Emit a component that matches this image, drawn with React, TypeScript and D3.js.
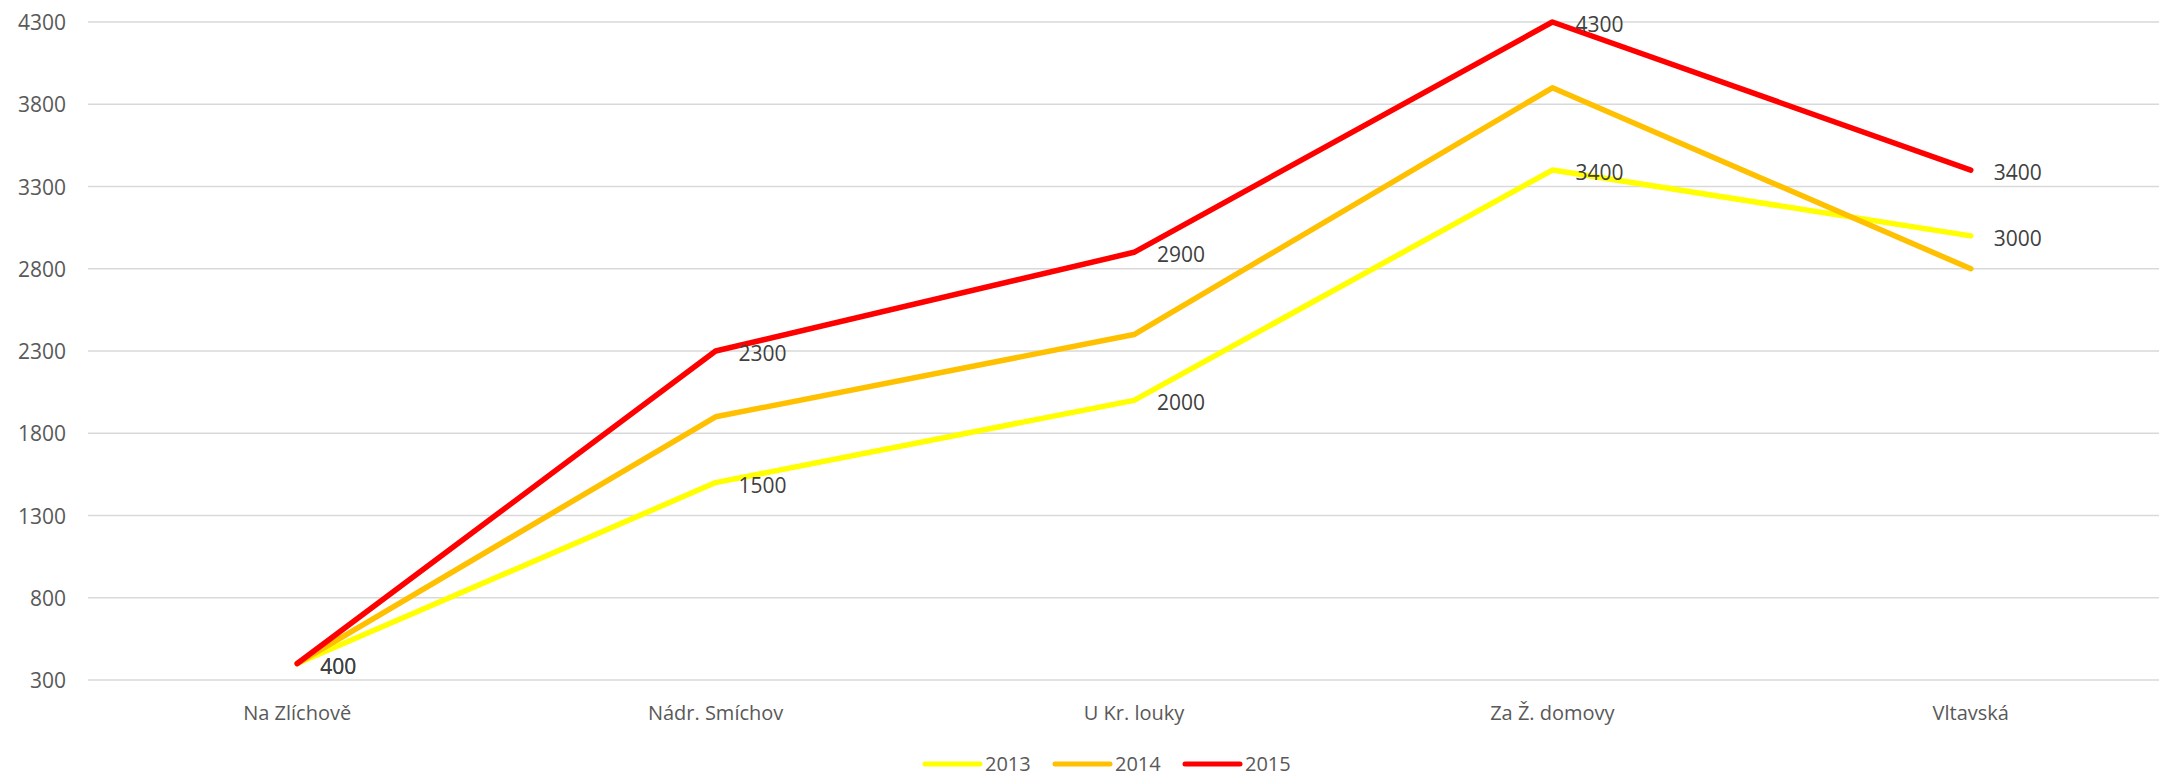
import * as d3 from 'd3';

const categories = ['Na Zlíchově', 'Nádr. Smíchov', 'U Kr. louky', 'Za Ž. domovy', 'Vltavská'];
const seriesNames = ['2013', '2014', '2015'];
const values2013 = [400, 1500, 2000, 3400, 3000];
const values2014 = [400, 1900, 2400, 3900, 2800];
const values2015 = [400, 2300, 2900, 4300, 3400];
const yTicks = [300, 800, 1300, 1800, 2300, 2800, 3300, 3800, 4300];
const labelledSeries = ['2013', '2015'];

const COLORS: Record<string, string> = {
  '2013': '#FFFF00',
  '2014': '#FFC000',
  '2015': '#FF0000',
};

const W = 2159;
const H = 777;
const FONT = '"Open Sans", sans-serif';

export default function App() {
  const series = [
    { name: seriesNames[0], values: values2013 },
    { name: seriesNames[1], values: values2014 },
    { name: seriesNames[2], values: values2015 },
  ];

  const x = d3.scaleBand<string>().domain(categories).range([88, 2180]);
  const cx = (c: string) => (x(c) ?? 0) + x.bandwidth() / 2;
  const y = d3.scaleLinear().domain([300, 4300]).range([680, 22]);

  const line = d3
    .line<number>()
    .x((_, i) => cx(categories[i]))
    .y((d) => y(d));

  return (
    <svg
      width={W}
      height={H}
      style={{ position: 'absolute', left: 0, top: 0, background: '#fff' }}
    >
      {/* gridlines */}
      {yTicks.map((t) => (
        <line key={t} x1={88} x2={W} y1={y(t)} y2={y(t)} stroke="#D9D9D9" strokeWidth={1.5} />
      ))}

      {/* y axis labels */}
      {yTicks.map((t) => (
        <text
          key={`yl-${t}`}
          x={66}
          y={y(t)}
          textAnchor="end"
          dominantBaseline="central"
          fill="#595959"
          fontFamily={FONT}
          fontSize={21}
        >
          {t}
        </text>
      ))}

      {/* category labels */}
      {categories.map((c) => (
        <text
          key={c}
          x={cx(c)}
          y={712}
          textAnchor="middle"
          dominantBaseline="central"
          fill="#595959"
          fontFamily={FONT}
          fontSize={20}
        >
          {c}
        </text>
      ))}

      {/* series lines */}
      {series.map((s) => (
        <path
          key={s.name}
          d={line(s.values) ?? ''}
          fill="none"
          stroke={COLORS[s.name]}
          strokeWidth={5.5}
          strokeLinecap="round"
          strokeLinejoin="round"
        />
      ))}

      {/* data labels */}
      {series
        .filter((s) => labelledSeries.includes(s.name))
        .map((s) =>
          s.values.map((v, i) => (
            <text
              key={`${s.name}-${i}`}
              x={cx(categories[i]) + 23}
              y={y(v) + 2}
              dominantBaseline="central"
              fill="#404040"
              fontFamily={FONT}
              fontSize={21}
            >
              {v}
            </text>
          ))
        )}

      {/* legend */}
      {series.map((s, i) => {
        const lx = 925 + i * 130;
        return (
          <g key={`lg-${s.name}`}>
            <line
              x1={lx}
              x2={lx + 55}
              y1={764}
              y2={764}
              stroke={COLORS[s.name]}
              strokeWidth={5}
              strokeLinecap="round"
            />
            <text
              x={lx + 60}
              y={763}
              dominantBaseline="central"
              fill="#595959"
              fontFamily={FONT}
              fontSize={20}
            >
              {s.name}
            </text>
          </g>
        );
      })}
    </svg>
  );
}
